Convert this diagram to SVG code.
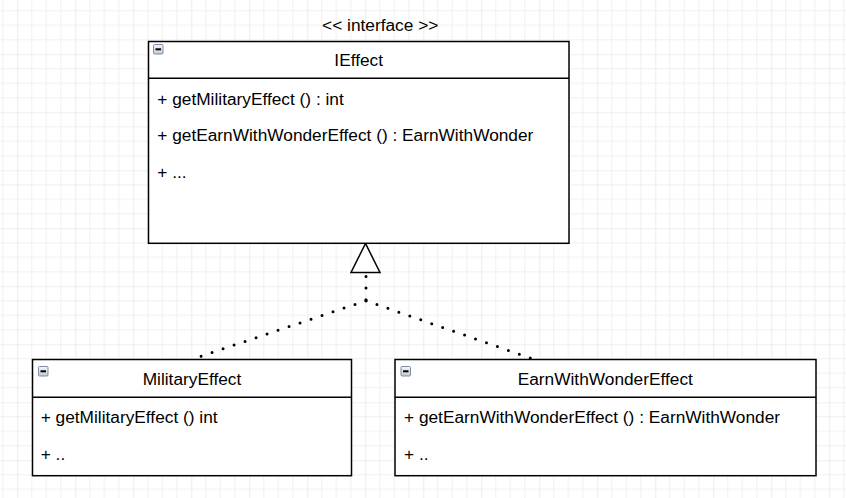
<svg xmlns="http://www.w3.org/2000/svg" width="846" height="498" viewBox="0 0 846 498">
  <style>
    .box { fill: #ffffff; stroke: #000000; stroke-width: 1.5; }
    .sep { stroke: #000000; stroke-width: 1.5; fill: none; }
    .t { font-family: "Liberation Sans", Arial, sans-serif; font-size: 17.3px; fill: #000000; }
    .c { text-anchor: middle; }
    .icon { fill: url(#iconGrad); stroke: #7d8ea3; stroke-width: 1; }
    .minus { stroke: #000000; stroke-width: 2; }
    .dots { fill: none; stroke: #000000; stroke-width: 3; stroke-linecap: round; stroke-dasharray: 0 11.6; }
    .tri { fill: #ffffff; stroke: #000000; stroke-width: 1.5; stroke-linejoin: miter; }
  </style>
  <defs>
    <pattern id="grid" patternUnits="userSpaceOnUse" x="17.3" y="54.3" width="58" height="58">
      <path d="M14.5 0V58M29 0V58M43.5 0V58M0 14.5H58M0 29H58M0 43.5H58" stroke="#f0f0f0" stroke-width="1" fill="none"/>
      <path d="M0 0V58M0 0H58" stroke="#e0e0e0" stroke-width="1.2" fill="none"/>
    </pattern>
    <linearGradient id="iconGrad" x1="0" y1="0" x2="0" y2="1">
      <stop offset="0" stop-color="#f4f6f9"/>
      <stop offset="1" stop-color="#c3ccd7"/>
    </linearGradient>
  </defs>

  <rect width="846" height="498" fill="#ffffff"/>
  <rect width="846" height="498" fill="url(#grid)"/>

  <g id="connectors">
    <path class="dots" d="M366 276.5 V300.7"/>
    <path class="dots" d="M366 300.7 L192.7 359"/>
    <path class="dots" d="M366 300.7 L533 359"/>
    <polygon class="tri" points="365.5,243.5 351,272.5 380,272.5"/>
  </g>

  <g id="IEffect">
    <text class="t c" x="380.2" y="31.2">&lt;&lt; interface &gt;&gt;</text>
    <rect class="box" x="148.5" y="41.5" width="420.5" height="201.8"/>
    <line class="sep" x1="148.5" y1="78.3" x2="569" y2="78.3"/>
    <rect class="icon" x="153.5" y="44.5" width="9.5" height="9.5" rx="1"/>
    <line class="minus" x1="155.5" y1="49.3" x2="161" y2="49.3"/>
    <text class="t c" x="358.7" y="66">IEffect</text>
    <text class="t" x="157.3" y="104.5">+ getMilitaryEffect () : int</text>
    <text class="t" x="157.3" y="141">+ getEarnWithWonderEffect () : EarnWithWonder</text>
    <text class="t" x="157.3" y="177.8">+ ...</text>
  </g>

  <g id="MilitaryEffect">
    <rect class="box" x="32.5" y="359.5" width="319" height="116.2"/>
    <line class="sep" x1="32.5" y1="397.3" x2="351.5" y2="397.3"/>
    <rect class="icon" x="38.5" y="366.5" width="9.5" height="9.5" rx="1"/>
    <line class="minus" x1="40.5" y1="371.3" x2="46" y2="371.3"/>
    <text class="t c" x="192" y="385">MilitaryEffect</text>
    <text class="t" x="40.7" y="422.7">+ getMilitaryEffect () int</text>
    <text class="t" x="40.7" y="460">+ ..</text>
  </g>

  <g id="EarnWithWonderEffect">
    <rect class="box" x="395" y="359.5" width="421" height="116.2"/>
    <line class="sep" x1="395" y1="397.3" x2="816" y2="397.3"/>
    <rect class="icon" x="401" y="366.5" width="9.5" height="9.5" rx="1"/>
    <line class="minus" x1="403" y1="371.3" x2="408.5" y2="371.3"/>
    <text class="t c" x="605.3" y="385">EarnWithWonderEffect</text>
    <text class="t" x="404" y="422.7">+ getEarnWithWonderEffect () : EarnWithWonder</text>
    <text class="t" x="404" y="460">+ ..</text>
  </g>
</svg>
